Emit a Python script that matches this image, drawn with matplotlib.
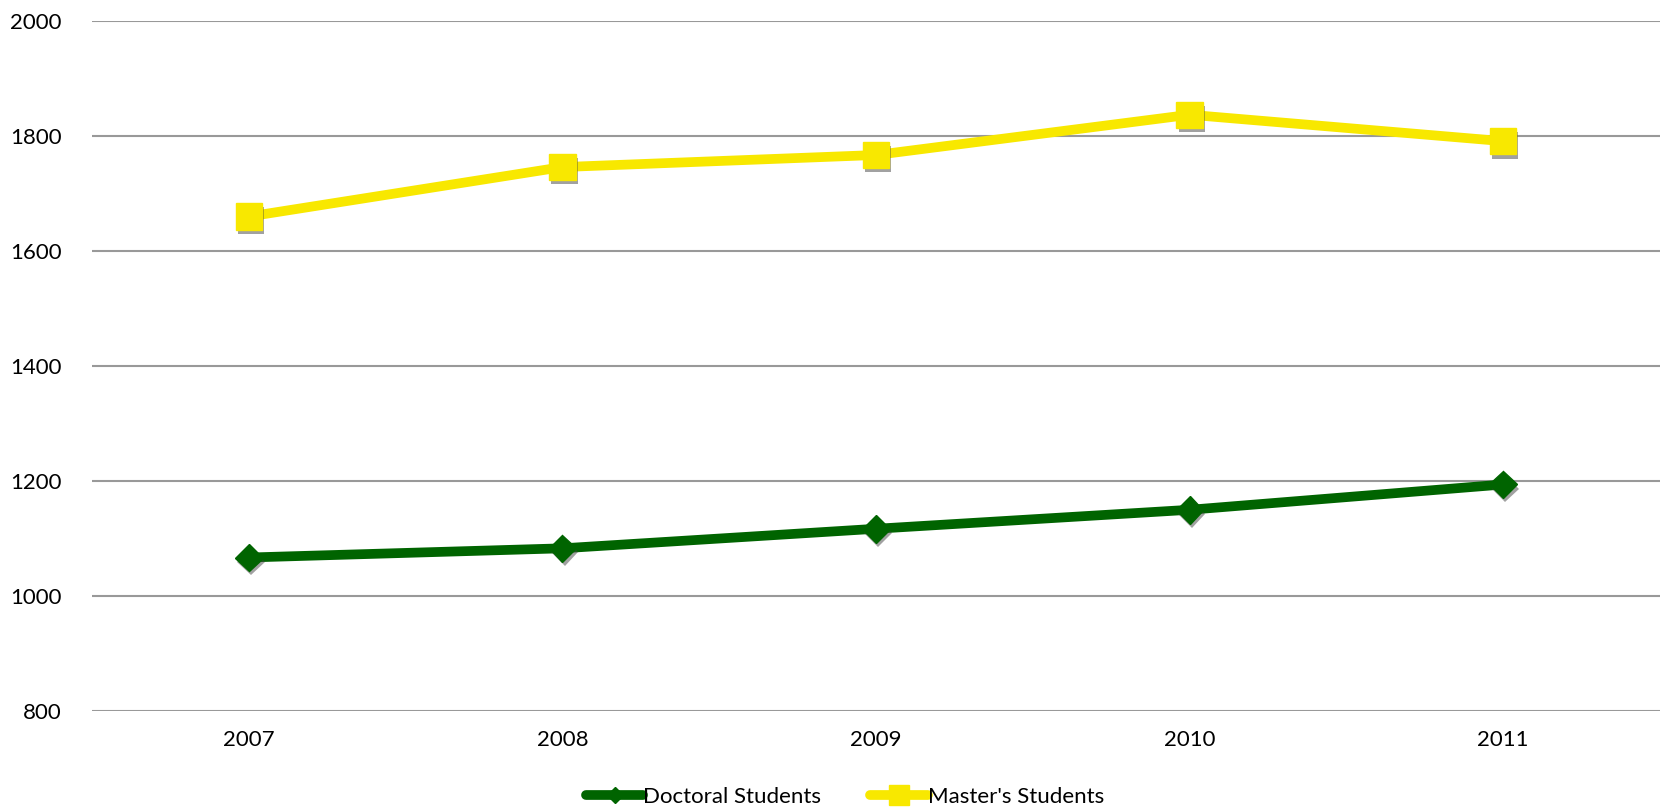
import matplotlib
matplotlib.use('Agg')
import matplotlib.pyplot as plt
import matplotlib.patheffects as pe

# 데이터
years = ['2007', '2008', '2009', '2010', '2011']
doctoral = [1067, 1083, 1117, 1150, 1194]
masters = [1660, 1746, 1767, 1837, 1791]
yticks = [800, 1000, 1200, 1400, 1600, 1800, 2000]

green = '#006400'
yellow = '#F8E800'

plt.rcParams['font.family'] = ['Lato', 'DejaVu Sans']

fig = plt.figure(figsize=(16.65, 8.08), dpi=100)
ax = fig.add_axes([0.0553, 0.12, 0.9417, 0.854])

x = list(range(len(years)))
shadow = [pe.SimplePatchShadow(offset=(1.5, -3), shadow_rgbFace='#444444', alpha=0.5), pe.Normal()]

# 선
ax.plot(x, doctoral, color=green, lw=7, solid_capstyle='round', zorder=3)
ax.plot(x, masters, color=yellow, lw=7, solid_capstyle='round', zorder=3)
# 그림자 있는 마커
ax.plot(x, doctoral, ls='none', marker='D', ms=14, color=green, mec=green, zorder=4, path_effects=shadow)
ax.plot(x, masters, ls='none', marker='s', ms=19, color=yellow, mec=yellow, zorder=4, path_effects=shadow)

ax.set_xlim(-0.5, len(years) - 0.5)
ax.set_ylim(800, 2000)
ax.set_yticks(yticks)
ax.set_xticks(x)
ax.set_xticklabels(years)
ax.tick_params(axis='both', length=0, labelsize=16, colors='black')
ax.tick_params(axis='y', pad=22)
ax.tick_params(axis='x', pad=14)
ax.grid(axis='y', color='#999999', lw=1.5)
ax.set_axisbelow(True)
for s in ax.spines.values():
    s.set_visible(False)

# 범례
h1, = ax.plot([], [], color=green, lw=7, solid_capstyle='round', marker='D', ms=8)
h2, = ax.plot([], [], color=yellow, lw=7, solid_capstyle='round', marker='s', ms=14)
fig.legend([h1, h2], ['Doctoral Students', "Master's Students"], loc='center',
           bbox_to_anchor=(845 / 1665, 1 - 797 / 808), ncol=2, frameon=False,
           fontsize=16, handlelength=2.6, handletextpad=0.0, columnspacing=2.2)

fig.savefig('out.png', dpi=100)
